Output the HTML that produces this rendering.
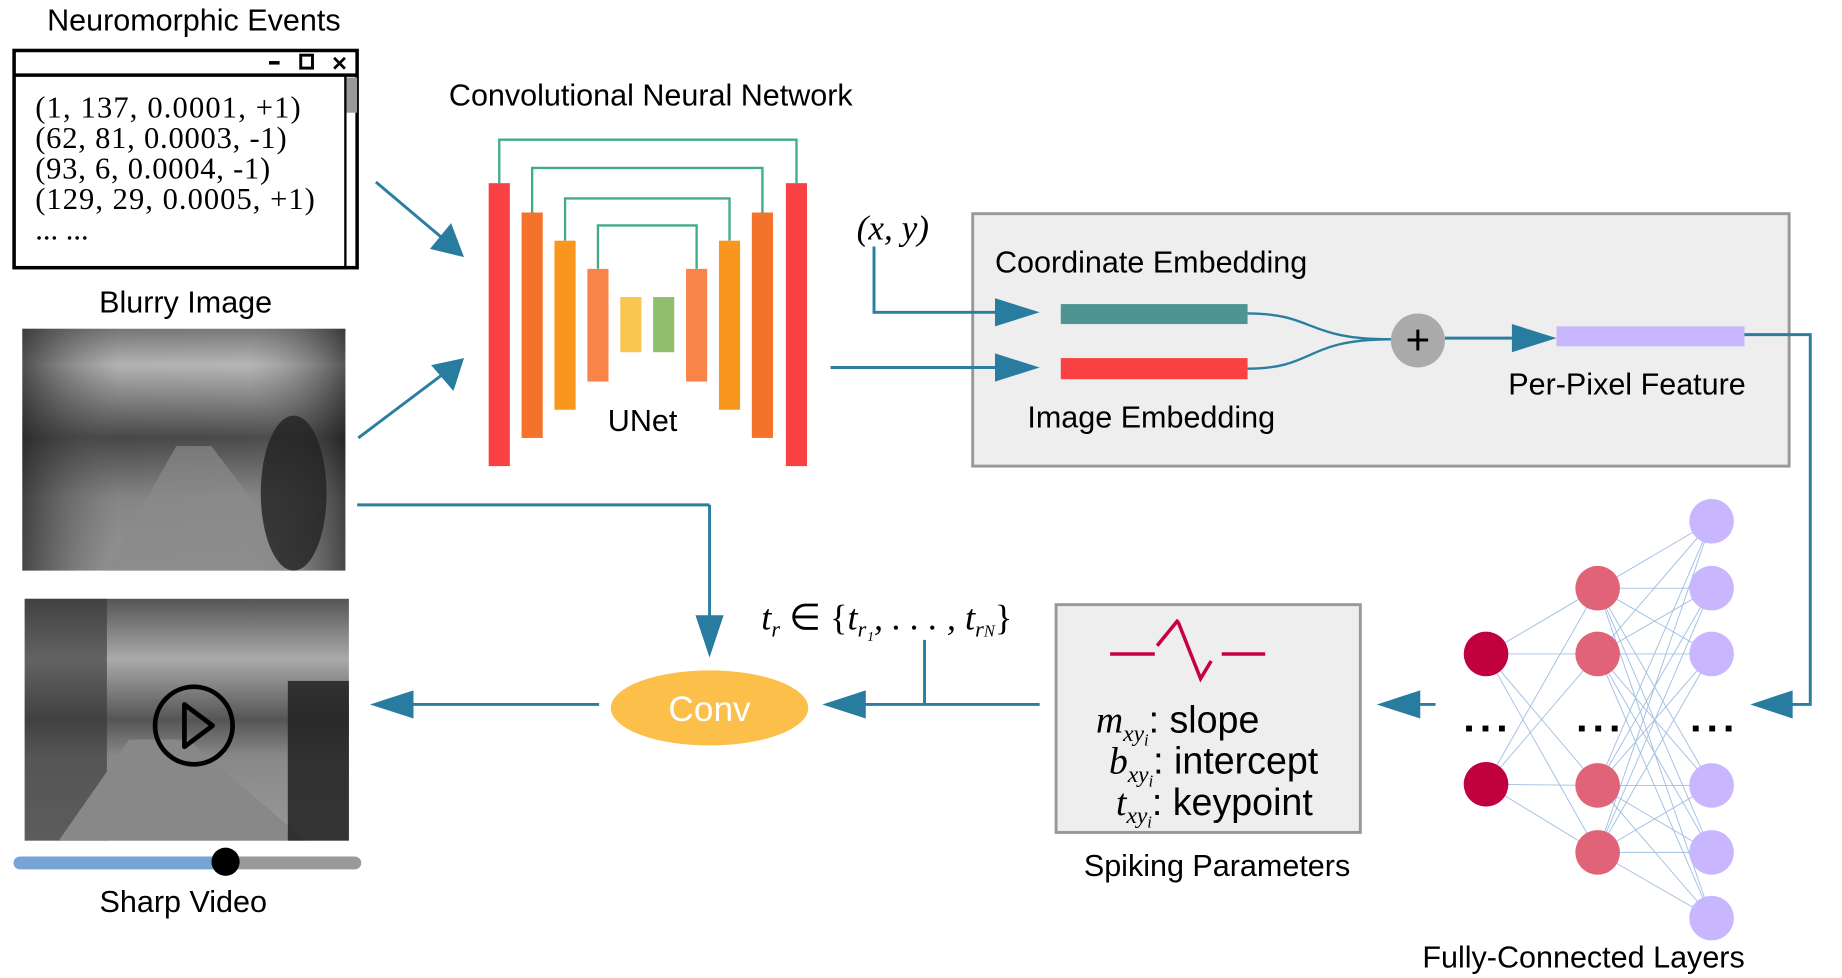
<!DOCTYPE html>
<html><head><meta charset="utf-8"><style>
html,body{margin:0;padding:0;background:#fff;}
svg{display:block;}
.s{font-family:"Liberation Sans",sans-serif;fill:#000;}
.m{font-family:"Liberation Serif",serif;fill:#000;}
</style></head><body>
<svg width="1842" height="978" viewBox="0 0 1568 833" preserveAspectRatio="none" xmlns="http://www.w3.org/2000/svg">
<defs>
<linearGradient id="blur" x1="0" y1="0" x2="0" y2="1">
<stop offset="0" stop-color="#777"/><stop offset="0.15" stop-color="#bbb"/><stop offset="0.45" stop-color="#444"/><stop offset="0.7" stop-color="#888"/><stop offset="1" stop-color="#999"/>
</linearGradient>
<linearGradient id="blurH" x1="0" y1="0" x2="1" y2="0">
<stop offset="0" stop-color="#222" stop-opacity="0.7"/><stop offset="0.3" stop-color="#666" stop-opacity="0.1"/><stop offset="0.7" stop-color="#888" stop-opacity="0.1"/><stop offset="1" stop-color="#111" stop-opacity="0.6"/>
</linearGradient>
<linearGradient id="sharp" x1="0" y1="0" x2="0" y2="1">
<stop offset="0" stop-color="#555"/><stop offset="0.25" stop-color="#aaa"/><stop offset="0.5" stop-color="#555"/><stop offset="0.65" stop-color="#888"/><stop offset="1" stop-color="#999"/>
</linearGradient>
</defs>

<text class="s" x="165" y="26" font-size="26" text-anchor="middle">Neuromorphic Events</text>
<rect x="12" y="43" width="292" height="185" fill="#fff" stroke="#000" stroke-width="3"/>
<line x1="12" y1="64" x2="304" y2="64" stroke="#000" stroke-width="3"/>
<line x1="294" y1="64" x2="294" y2="228" stroke="#000" stroke-width="2"/>
<rect x="295" y="66" width="9" height="30" fill="#999"/>
<rect x="229" y="52" width="9" height="3" fill="#000"/>
<rect x="256" y="47" width="10" height="11" fill="none" stroke="#000" stroke-width="2.5"/>
<text class="s" x="289" y="60" font-size="17" font-weight="bold" text-anchor="middle">✕</text>
<g class="m" font-size="26">
<text x="30" y="100" textLength="226">(1, 137, 0.0001, +1)</text>
<text x="30" y="126" textLength="214">(62, 81, 0.0003, -1)</text>
<text x="30" y="152" textLength="200">(93, 6, 0.0004, -1)</text>
<text x="30" y="178" textLength="238">(129, 29, 0.0005, +1)</text>
<text x="30" y="204">... ...</text>
</g>

<text class="s" x="158" y="266" font-size="26" text-anchor="middle">Blurry Image</text>
<rect x="19" y="280" width="275" height="206" fill="url(#blur)"/>
<rect x="19" y="280" width="275" height="206" fill="url(#blurH)"/>
<polygon points="90,486 150,380 180,380 260,486" fill="#8a8a8a" opacity="0.7"/>
<ellipse cx="250" cy="420" rx="28" ry="66" fill="#222" opacity="0.8"/>

<rect x="21" y="510" width="276" height="206" fill="url(#sharp)"/>
<rect x="21" y="510" width="70" height="206" fill="#333" opacity="0.6"/>
<polygon points="50,716 110,630 160,630 260,716" fill="#888"/>
<rect x="245" y="580" width="52" height="136" fill="#222" opacity="0.85"/>
<circle cx="165" cy="618" r="33" fill="none" stroke="#000" stroke-width="4"/>
<polygon points="157,600 157,636 181,618" fill="none" stroke="#000" stroke-width="4" stroke-linejoin="round"/>
<line x1="17" y1="735" x2="192" y2="735" stroke="#78a3d6" stroke-width="11" stroke-linecap="round"/>
<line x1="192" y1="735" x2="302" y2="735" stroke="#999" stroke-width="11" stroke-linecap="round"/>
<circle cx="192" cy="734" r="12" fill="#000"/>
<text class="s" x="156" y="777" font-size="26" text-anchor="middle">Sharp Video</text>

<g stroke="#2a7ea0" stroke-width="2.5" fill="none">
<line x1="320" y1="155" x2="378" y2="204"/>
<line x1="305" y1="373" x2="378" y2="318"/>
</g>
<polygon points="395,219 366,212 384,190" fill="#287ca0"/>
<polygon points="395,305 386,333 367,311" fill="#287ca0"/>

<text class="s" x="554" y="90" font-size="26" text-anchor="middle">Convolutional Neural Network</text>
<g stroke="#43aa8b" stroke-width="2" fill="none">
<polyline points="425,156 425,119 678,119 678,156"/>
<polyline points="453,181 453,143 649,143 649,181"/>
<polyline points="481,205 481,169 621,169 621,205"/>
<polyline points="509,229 509,192 593,192 593,229"/>
</g>
<rect x="416" y="156" width="18" height="241" fill="#f94144"/>
<rect x="444" y="181" width="18" height="192" fill="#f3722c"/>
<rect x="472" y="205" width="18" height="144" fill="#f8961e"/>
<rect x="500" y="229" width="18" height="96" fill="#f9844a"/>
<rect x="528" y="253" width="18" height="47" fill="#f9c74f"/>
<rect x="556" y="253" width="18" height="47" fill="#90be6d"/>
<rect x="584" y="229" width="18" height="96" fill="#f9844a"/>
<rect x="612" y="205" width="18" height="144" fill="#f8961e"/>
<rect x="640" y="181" width="18" height="192" fill="#f3722c"/>
<rect x="669" y="156" width="18" height="241" fill="#f94144"/>
<text class="s" x="547" y="367" font-size="26" text-anchor="middle">UNet</text>

<rect x="828" y="182" width="695" height="215" fill="#eeeeee" stroke="#999" stroke-width="2.5"/>
<rect x="899" y="515" width="259" height="194" fill="#eeeeee" stroke="#999" stroke-width="2.5"/>

<text class="m" x="760" y="204" font-size="30" font-style="italic" text-anchor="middle">(x, y)</text>
<g stroke="#2a7ea0" stroke-width="2.5" fill="none">
<polyline points="744,210 744,266 850,266"/>
<line x1="707" y1="313" x2="850" y2="313"/>
<line x1="1230" y1="288" x2="1292" y2="288"/>
<polyline points="1485,285 1541,285 1541,600 1520,600"/>
<line x1="304" y1="430" x2="604" y2="430"/>
<line x1="604" y1="430" x2="604" y2="528"/>
<line x1="510" y1="600" x2="350" y2="600"/>
<line x1="885" y1="600" x2="735" y2="600"/>
<line x1="787" y1="545" x2="787" y2="600"/>
<line x1="1222" y1="600" x2="1205" y2="600"/>
</g>
<polygon points="885,266 847,254 847,278" fill="#287ca0"/>
<polygon points="885,313 847,301 847,325" fill="#287ca0"/>
<polygon points="1325,288 1287,276 1287,300" fill="#287ca0"/>
<polygon points="1490,600 1526,588 1526,612" fill="#287ca0"/>
<polygon points="604,560 592,524 616,524" fill="#287ca0"/>
<polygon points="315,600 352,588 352,612" fill="#287ca0"/>
<polygon points="700,600 737,588 737,612" fill="#287ca0"/>
<polygon points="1172,600 1209,588 1209,612" fill="#287ca0"/>

<text class="s" x="847" y="232" font-size="26">Coordinate Embedding</text>
<rect x="903" y="259" width="159" height="17" fill="#4e9490"/>
<rect x="903" y="305" width="159" height="18" fill="#f94144"/>
<path d="M1062,267 C1120,267 1110,289 1184,289" stroke="#2a7ea0" stroke-width="2" fill="none"/>
<path d="M1062,314 C1120,314 1110,289 1184,289" stroke="#2a7ea0" stroke-width="2" fill="none"/>
<circle cx="1207" cy="290" r="23" fill="#aaa"/>
<text class="s" x="1207" y="302" font-size="36" text-anchor="middle">+</text>
<rect x="1325" y="278" width="160" height="17" fill="#c8b6ff"/>
<text class="s" x="1385" y="336" font-size="26" text-anchor="middle">Per-Pixel Feature</text>
<text class="s" x="980" y="364" font-size="26" text-anchor="middle">Image Embedding</text>

<ellipse cx="604" cy="603" rx="84" ry="32" fill="#fcbf49"/>
<text class="s" x="604" y="614" font-size="30" style="fill:#fff" text-anchor="middle">Conv</text>

<text class="m" x="648" y="536" font-size="31" font-style="italic">t<tspan font-size="19" dy="6">r</tspan><tspan dy="-6" font-style="normal"> ∈ {</tspan>t<tspan font-size="19" dy="6">r₁</tspan><tspan dy="-6">, . . . , </tspan>t<tspan font-size="19" dy="6">r<tspan font-size="14">N</tspan></tspan><tspan dy="-6" font-style="normal">}</tspan></text>

<g stroke="#c8003f" stroke-width="3" fill="none">
<line x1="945" y1="557" x2="983" y2="557"/>
<polyline points="985,550 1003,528"/>
<polyline points="1003,530 1022,578 1031,563"/>
<line x1="1040" y1="557" x2="1077" y2="557"/>
</g>
<g font-size="32">
<text x="933" y="624"><tspan class="m" font-style="italic">m</tspan><tspan class="m" font-style="italic" font-size="20" dy="7">xy<tspan font-size="14" dy="4">i</tspan></tspan><tspan class="s" dy="-11">: slope</tspan></text>
<text x="944" y="659"><tspan class="m" font-style="italic">b</tspan><tspan class="m" font-style="italic" font-size="20" dy="7">xy<tspan font-size="14" dy="4">i</tspan></tspan><tspan class="s" dy="-11">: intercept</tspan></text>
<text x="950" y="694"><tspan class="m" font-style="italic">t</tspan><tspan class="m" font-style="italic" font-size="20" dy="7">xy<tspan font-size="14" dy="4">i</tspan></tspan><tspan class="s" dy="-11">: keypoint</tspan></text>
</g>
<text class="s" x="1036" y="746" font-size="26" text-anchor="middle">Spiking Parameters</text>

<g stroke="#8ab0dd" stroke-width="0.8" opacity="0.8">
<line x1="1265" y1="557" x2="1360" y2="501"/><line x1="1265" y1="557" x2="1360" y2="557"/><line x1="1265" y1="557" x2="1360" y2="669"/><line x1="1265" y1="557" x2="1360" y2="726"/>
<line x1="1265" y1="668" x2="1360" y2="501"/><line x1="1265" y1="668" x2="1360" y2="557"/><line x1="1265" y1="668" x2="1360" y2="669"/><line x1="1265" y1="668" x2="1360" y2="726"/>
<line x1="1360" y1="501" x2="1457" y2="444"/><line x1="1360" y1="501" x2="1457" y2="501"/><line x1="1360" y1="501" x2="1457" y2="557"/><line x1="1360" y1="501" x2="1457" y2="669"/><line x1="1360" y1="501" x2="1457" y2="726"/><line x1="1360" y1="501" x2="1457" y2="782"/>
<line x1="1360" y1="557" x2="1457" y2="444"/><line x1="1360" y1="557" x2="1457" y2="501"/><line x1="1360" y1="557" x2="1457" y2="557"/><line x1="1360" y1="557" x2="1457" y2="669"/><line x1="1360" y1="557" x2="1457" y2="726"/><line x1="1360" y1="557" x2="1457" y2="782"/>
<line x1="1360" y1="669" x2="1457" y2="444"/><line x1="1360" y1="669" x2="1457" y2="501"/><line x1="1360" y1="669" x2="1457" y2="557"/><line x1="1360" y1="669" x2="1457" y2="669"/><line x1="1360" y1="669" x2="1457" y2="726"/><line x1="1360" y1="669" x2="1457" y2="782"/>
<line x1="1360" y1="726" x2="1457" y2="444"/><line x1="1360" y1="726" x2="1457" y2="501"/><line x1="1360" y1="726" x2="1457" y2="557"/><line x1="1360" y1="726" x2="1457" y2="669"/><line x1="1360" y1="726" x2="1457" y2="726"/><line x1="1360" y1="726" x2="1457" y2="782"/>
</g>
<g fill="#c1003f"><ellipse cx="1265" cy="557" rx="19" ry="19"/><ellipse cx="1265" cy="668" rx="19" ry="19"/></g>
<g fill="#e06377"><ellipse cx="1360" cy="501" rx="19" ry="19"/><ellipse cx="1360" cy="557" rx="19" ry="19"/><ellipse cx="1360" cy="669" rx="19" ry="19"/><ellipse cx="1360" cy="726" rx="19" ry="19"/></g>
<g fill="#c8b6ff"><ellipse cx="1457" cy="444" rx="19" ry="19"/><ellipse cx="1457" cy="501" rx="19" ry="19"/><ellipse cx="1457" cy="557" rx="19" ry="19"/><ellipse cx="1457" cy="669" rx="19" ry="19"/><ellipse cx="1457" cy="726" rx="19" ry="19"/><ellipse cx="1457" cy="782" rx="19" ry="19"/></g>
<g fill="#000"><rect x="1248" y="618" width="5" height="5"/><rect x="1262" y="618" width="5" height="5"/><rect x="1276" y="618" width="5" height="5"/>
<rect x="1344" y="618" width="5" height="5"/><rect x="1358" y="618" width="5" height="5"/><rect x="1372" y="618" width="5" height="5"/>
<rect x="1441" y="618" width="5" height="5"/><rect x="1455" y="618" width="5" height="5"/><rect x="1469" y="618" width="5" height="5"/></g>
<text class="s" x="1348" y="824" font-size="26" text-anchor="middle">Fully-Connected Layers</text>
</svg>
</body></html>
